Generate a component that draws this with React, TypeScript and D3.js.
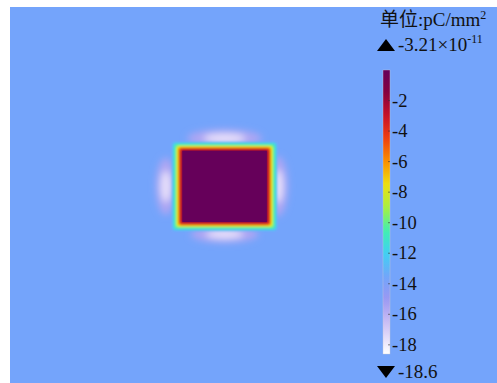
import React, { useEffect, useRef } from "react";
import * as d3 from "d3";

// colour table (value -> colour)
const colorValues = [0, -1.5, -3, -4.5, -6, -7.5, -9, -10.5, -12, -13.6, -15, -16.5, -18.6];
const colorStops = [
  "#66005a", "#86003e", "#c81028", "#f04010", "#fa9000", "#eee010", "#a8f040",
  "#40f0b0", "#40d0f4", "#74a4fb", "#9a98f2", "#cabcf4", "#ffffff",
];

const tickValues = [-2, -4, -6, -8, -10, -12, -14, -16, -18];
const maxValue = 0; // -3.21e-11
const minValue = -18.6;
const backgroundValue = -13.6;

// square electrode (model units), half width
const squareHalf = 0.5;
const squareValue = 0;
// bands around the square edge: offset beyond the edge, value
const bandOffsets = [0.09, 0.075, 0.06, 0.046, 0.033, 0.02, 0.008, -0.008];
const bandValues = [-12.6, -11.4, -10.2, -9, -7.5, -5.5, -3.8, -2.2];
// halo lobes just outside each side
const haloX = [0, 0, -0.66, 0.6];
const haloY = [0.64, -0.64, 0, 0];
const haloRx = [0.42, 0.38, 0.11, 0.11];
const haloRy = [0.12, 0.11, 0.38, 0.4];
const haloOuter = -15.6;
const haloInner = -17.6;

function ChargePlot() {
  const svgRef = useRef<SVGSVGElement>(null);
  const width = 497;
  const height = 383;
  const plot = { left: 10, top: 7, right: 497, bottom: 383 };

  useEffect(() => {
    const svg = d3.select(svgRef.current);
    svg.selectAll("*").remove();

    const color = d3.scaleLinear<string>().domain(colorValues).range(colorStops).interpolate(d3.interpolateRgb);

    // model coords -> pixels
    const xScale = d3.scaleLinear().domain([-2.41, 3.06]).range([plot.left, plot.right]);
    const yScale = d3.scaleLinear().domain([2.39, -2.62]).range([plot.top, plot.bottom]);

    const defs = svg.append("defs");
    defs.append("filter").attr("id", "blurBand").attr("x", "-20%").attr("y", "-20%").attr("width", "140%").attr("height", "140%")
      .append("feGaussianBlur").attr("stdDeviation", 1.1);
    defs.append("filter").attr("id", "blurHalo").attr("x", "-50%").attr("y", "-50%").attr("width", "200%").attr("height", "200%")
      .append("feGaussianBlur").attr("stdDeviation", 3.5);

    // --- domain background ---
    svg.append("rect")
      .attr("x", plot.left).attr("y", plot.top)
      .attr("width", plot.right - plot.left).attr("height", plot.bottom - plot.top)
      .attr("fill", color(backgroundValue));

    // --- halos ---
    const halo = svg.append("g").attr("filter", "url(#blurHalo)");
    haloX.forEach((hx, i) => {
      [haloOuter, haloInner].forEach((v, k) => {
        const s = k === 0 ? 1 : 0.55;
        halo.append("ellipse")
          .attr("cx", xScale(hx)).attr("cy", yScale(haloY[i]))
          .attr("rx", Math.abs(xScale(haloRx[i] * s) - xScale(0)))
          .attr("ry", Math.abs(yScale(haloRy[i] * s) - yScale(0)))
          .attr("fill", color(v));
      });
    });

    // --- edge bands + square ---
    const bands = svg.append("g").attr("filter", "url(#blurBand)");
    bandOffsets.forEach((off, i) => {
      const h = squareHalf + off;
      bands.append("rect")
        .attr("x", xScale(-h)).attr("y", yScale(h))
        .attr("width", xScale(h) - xScale(-h)).attr("height", yScale(-h) - yScale(h))
        .attr("rx", 3)
        .attr("fill", color(bandValues[i]));
    });
    const inner = squareHalf - 0.025;
    svg.append("rect")
      .attr("x", xScale(-inner)).attr("y", yScale(inner))
      .attr("width", xScale(inner) - xScale(-inner)).attr("height", yScale(-inner) - yScale(inner))
      .attr("fill", color(squareValue));

    // --- colour legend ---
    const barX = 383;
    const barW = 7;
    const cScale = d3.scaleLinear().domain([maxValue, minValue]).range([70, 354]);

    const grad = defs.append("linearGradient").attr("id", "legendGrad")
      .attr("x1", 0).attr("y1", 0).attr("x2", 0).attr("y2", 1);
    d3.range(0, 41).forEach(k => {
      const v = maxValue + (minValue - maxValue) * k / 40;
      grad.append("stop").attr("offset", `${k / 40 * 100}%`).attr("stop-color", color(v));
    });
    svg.append("rect")
      .attr("x", barX).attr("y", cScale(maxValue))
      .attr("width", barW).attr("height", cScale(minValue) - cScale(maxValue))
      .attr("fill", "url(#legendGrad)")
      .attr("stroke", "#c8c8d8").attr("stroke-width", 0.4);

    const font = "Times New Roman, Liberation Serif, Noto Sans CJK SC, serif";
    const ticks = svg.append("g");
    tickValues.forEach(t => {
      ticks.append("line")
        .attr("x1", barX + barW - 2).attr("x2", barX + barW)
        .attr("y1", cScale(t)).attr("y2", cScale(t))
        .attr("stroke", "#333").attr("stroke-opacity", 0.6);
      ticks.append("text")
        .attr("x", barX + barW + 2).attr("y", cScale(t) + 6)
        .attr("font-family", font).attr("font-size", 18.5).attr("fill", "#111")
        .text(t);
    });

    // title
    const title = svg.append("text").attr("x", 380).attr("y", 26)
      .attr("font-family", font).attr("font-size", 19).attr("fill", "#111");
    title.append("tspan").text("单位:pC/mm");
    title.append("tspan").attr("font-size", 12).attr("dy", -7).text("2");

    // max / min markers
    const tri = (cx: number, cy: number, up: boolean) => {
      const w = 9, h = 6;
      const pts: [number, number][] = up
        ? [[cx - w, cy + h], [cx + w, cy + h], [cx, cy - h]]
        : [[cx - w, cy - h], [cx + w, cy - h], [cx, cy + h]];
      return d3.line()(pts.concat([pts[0]]));
    };
    svg.append("path").attr("d", tri(386, 45, true)).attr("fill", "#000");
    const maxText = svg.append("text").attr("x", 398).attr("y", 51)
      .attr("font-family", font).attr("font-size", 19).attr("fill", "#111");
    maxText.append("tspan").text("-3.21×10");
    maxText.append("tspan").attr("font-size", 12).attr("dy", -8).text("-11");

    svg.append("path").attr("d", tri(386, 372, false)).attr("fill", "#000");
    svg.append("text").attr("x", 398).attr("y", 378)
      .attr("font-family", font).attr("font-size", 19).attr("fill", "#111")
      .text(minValue);
  }, []);

  return (
    <svg ref={svgRef} width={width} height={height}
      style={{ position: "absolute", left: 0, top: 0, background: "#fff" }} />
  );
}

export default function App() {
  return <ChargePlot />;
}
